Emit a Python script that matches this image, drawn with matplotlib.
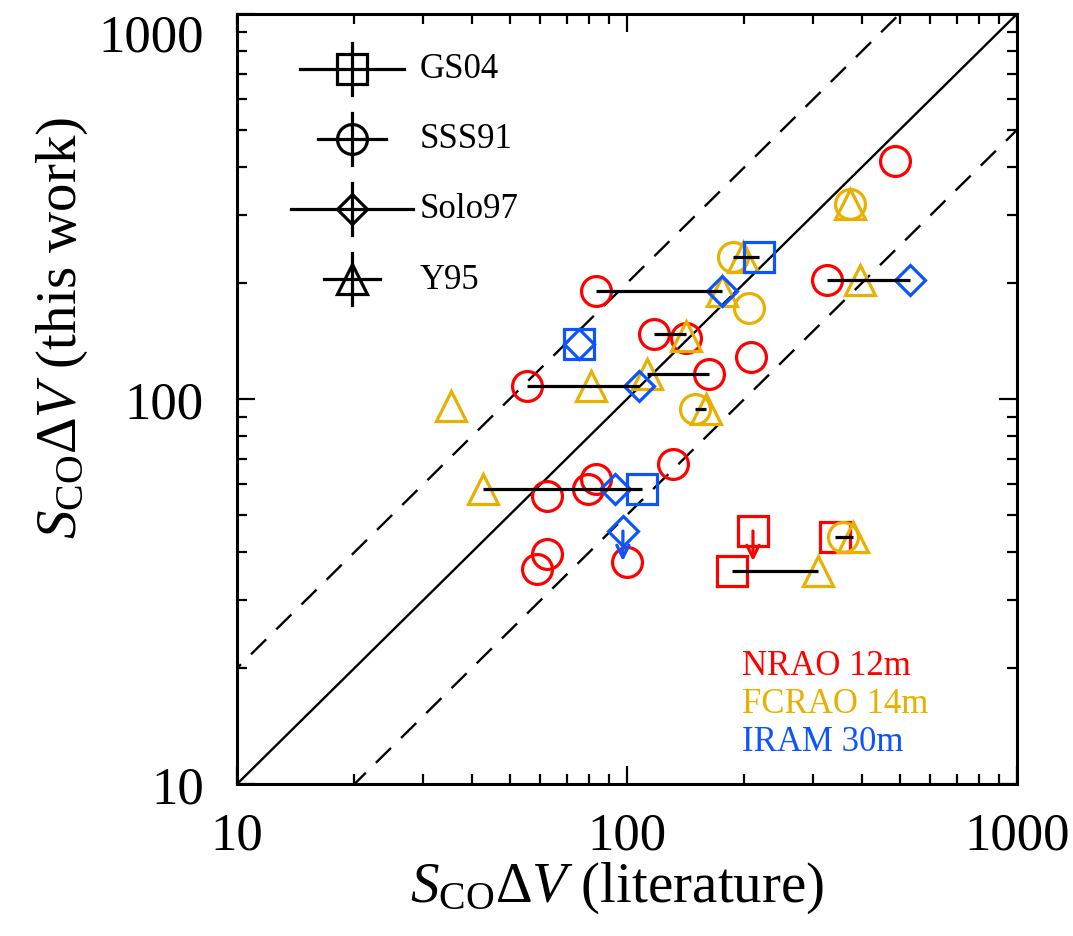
import numpy as np
import matplotlib
matplotlib.use('Agg')
import matplotlib.pyplot as plt
from matplotlib.ticker import FuncFormatter, LogLocator

plt.rcParams['font.family'] = ['Liberation Serif', 'DejaVu Serif']
plt.rcParams['mathtext.fontset'] = 'custom'
plt.rcParams['mathtext.rm'] = 'Liberation Serif'
plt.rcParams['mathtext.it'] = 'Liberation Serif:italic'

# Data: (literature, this work) for each telescope / reference
nrao_sss91_x = [487, 83.3, 117.3, 141.7, 208, 162.3, 55.4, 325.7, 131.2, 83.3, 79.4, 62.4, 100, 62.4, 58.8]
nrao_sss91_y = [415, 190.8, 147.5, 144, 128.5, 116.2, 108.1, 203.8, 67.8, 62.0, 58.4, 56.0, 37.7, 39.6, 36.2]

nrao_gs04_x = [185.9, 341.6]
nrao_gs04_y = [35.8, 43.8]
nrao_gs04_lim_x = [210.4]
nrao_gs04_lim_y = [45.4]

fcrao_sss91_x = [187, 205.5, 149.4, 373.2, 357.9]
fcrao_sss91_y = [233.8, 172.3, 94.2, 321, 43.8]

fcrao_y95_x = [198.3, 175.2, 141.7, 112.5, 80.8, 35.4, 159.5, 373.2, 395.7, 42.7, 308.9, 379.7]
fcrao_y95_y = [233.8, 190.8, 145.7, 116.2, 108.1, 95.9, 94.2, 321, 203.8, 58.4, 35.8, 43.8]

iram_gs04_x = [217.9, 75.3, 109.3]
iram_gs04_y = [233.8, 138.9, 58.4]

iram_solo97_x = [175.2, 75.3, 107.4, 531.6, 93.1]
iram_solo97_y = [190.8, 138.9, 108.1, 203.8, 58.4]
iram_solo97_lim_x = [97.6]
iram_solo97_lim_y = [45.4]

# horizontal spans between literature values of the same galaxy
span_x1 = [83.3, 117.3, 112.5, 55.4, 187, 325.7, 42.7, 149.4, 185.9, 341.6]
span_x2 = [175.2, 141.7, 162.3, 107.4, 217.9, 531.6, 109.3, 159.5, 308.9, 379.7]
span_y = [190.8, 147.5, 116.2, 108.1, 233.8, 203.8, 58.4, 94.2, 35.8, 43.8]

legend_labels = ['GS04', 'SSS91', 'Solo97', 'Y95']
legend_markers = ['s', 'o', 'D', '^']
telescopes = ['NRAO 12m', 'FCRAO 14m', 'IRAM 30m']

RED = '#ff0000'
YEL = '#e8b000'
BLU = '#0a55ff'
tel_colors = [RED, YEL, BLU]

ms_round = 21.5
ms_diam = 15.2
mew = 2.3

fig = plt.figure(figsize=(10.73, 9.37), dpi=100)
ax = fig.add_axes([0.2209, 0.1622, 0.7269, 0.8218])
ax.set_xscale('log')
ax.set_yscale('log')
ax.set_xlim(10, 1000)
ax.set_ylim(10, 1000)

# one-to-one and factor-of-two lines
ref = np.array([1, 2000.0])
ax.plot(ref, ref, color='k', lw=1.7, zorder=1)
ax.plot(ref, 2 * ref, color='k', lw=1.7, ls=(0, (9, 6)), zorder=1)
ax.plot(ref, ref / 2, color='k', lw=1.7, ls=(0, (9, 6)), zorder=1)

def pts(x, y, marker, color, ms):
    ax.plot(x, y, ls='none', marker=marker, ms=ms, mfc='none', mec=color, mew=mew, zorder=3)

pts(nrao_sss91_x, nrao_sss91_y, 'o', RED, ms_round)
pts(nrao_gs04_x + nrao_gs04_lim_x, nrao_gs04_y + nrao_gs04_lim_y, 's', RED, ms_round)
pts(fcrao_sss91_x, fcrao_sss91_y, 'o', YEL, ms_round)
pts(fcrao_y95_x, fcrao_y95_y, '^', YEL, ms_round)
pts(iram_gs04_x, iram_gs04_y, 's', BLU, ms_round)
pts(iram_solo97_x + iram_solo97_lim_x, iram_solo97_y + iram_solo97_lim_y, 'D', BLU, ms_diam)

# upper limits
for xs, ys, c in [(nrao_gs04_lim_x, nrao_gs04_lim_y, RED), (iram_solo97_lim_x, iram_solo97_lim_y, BLU)]:
    for x, y in zip(xs, ys):
        ax.annotate('', xy=(x, y * 10 ** -0.078), xytext=(x, y),
                    arrowprops=dict(arrowstyle='->', color=c, lw=2.3, mutation_scale=22,
                                    shrinkA=0, shrinkB=0), zorder=4)

ax.hlines(span_y, span_x1, span_x2, color='k', lw=2.3, zorder=4)

# legend of references (drawn in axes fraction)
leg_x = 0.1474
leg_y = [0.9286, 0.8377, 0.7468, 0.6558]
leg_hw = [0.0667, 0.0436, 0.0788, 0.0353]
leg_vh = 0.0338
for lab, mk, yy, hw in zip(legend_labels, legend_markers, leg_y, leg_hw):
    ax.plot([leg_x - hw, leg_x + hw], [yy, yy], color='k', lw=2.3, transform=ax.transAxes)
    ax.plot([leg_x, leg_x], [yy - leg_vh, yy + leg_vh], color='k', lw=2.3, transform=ax.transAxes)
    ax.plot([leg_x], [yy], marker=mk, ms=ms_diam if mk == 'D' else ms_round, mfc='none',
            mec='k', mew=mew, transform=ax.transAxes)
    ax.text(0.2346, yy, lab, transform=ax.transAxes, fontsize=25, va='center', ha='left')

for i, (t, c) in enumerate(zip(telescopes, tel_colors)):
    ax.text(0.647, 0.1545 - i * 0.0494, t, transform=ax.transAxes, color=c,
            fontsize=25, va='center', ha='left')

for s in ax.spines.values():
    s.set_linewidth(2.2)
ax.tick_params(which='both', direction='in', top=True, right=True, width=1.6)
ax.tick_params(which='major', length=13, labelsize=38)
ax.tick_params(which='minor', length=7)
ax.tick_params(axis='x', which='major', pad=20)
ax.tick_params(axis='y', which='major', pad=24)
ax.xaxis.set_major_locator(LogLocator(base=10, numticks=5))
ax.yaxis.set_major_locator(LogLocator(base=10, numticks=5))
fmt = FuncFormatter(lambda v, p: f'{v:g}')
ax.xaxis.set_major_formatter(fmt)
ax.yaxis.set_major_formatter(fmt)

ax.set_xlabel(r'$S_{\mathrm{CO}}\mathit{\Delta V}$ (literature)', fontsize=41)
ax.set_ylabel(r'$S_{\mathrm{CO}}\mathit{\Delta V}$ (this work)', fontsize=41)
ax.xaxis.set_label_coords(0.487, -0.098)
ax.yaxis.set_label_coords(-0.188, 0.594)

# keep the top y label inside the figure
fig.canvas.draw()
for lab in ax.get_yticklabels():
    if lab.get_text() == '1000':
        lab.set_va('top')

fig.savefig('out.png', dpi=100)
